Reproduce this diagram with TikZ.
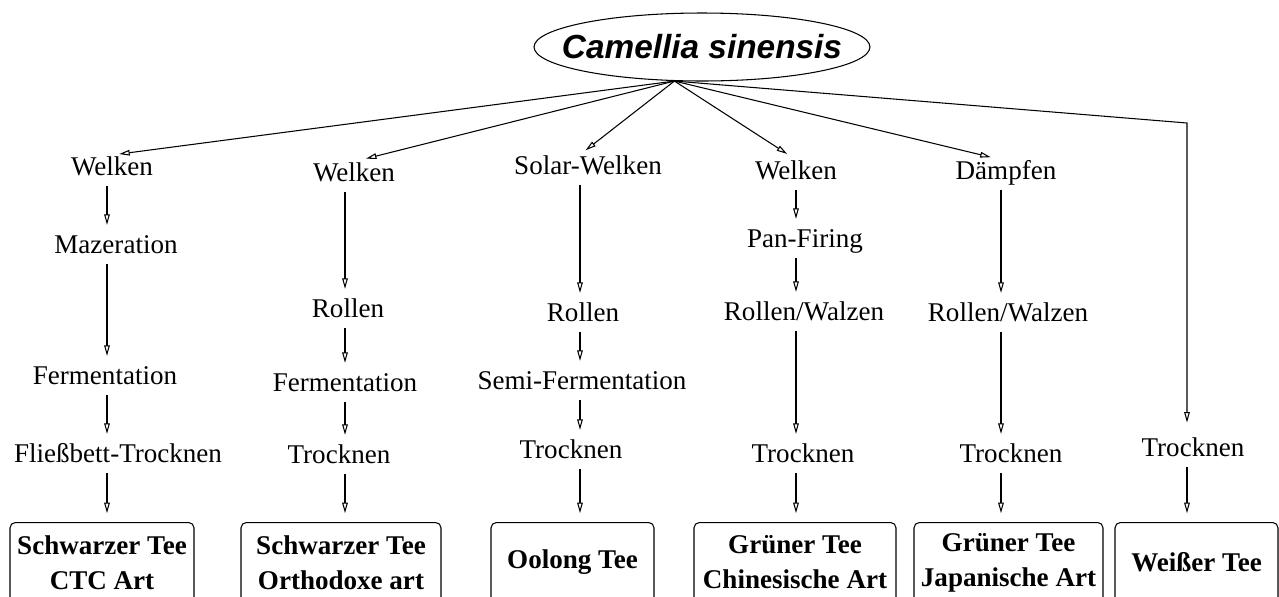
\documentclass[tikz,border=0pt]{standalone}
\usepackage{fontspec}
\setmainfont{Liberation Serif}
\newfontfamily\arialfont{Liberation Sans}
\usetikzlibrary{positioning, arrows.meta, shapes.geometric}

\begin{document}
\begin{tikzpicture}[
        x=0.02cm, y=-0.02cm,
        % Species at the top (ellipse)
        species/.style={
            ellipse, draw, line width=0.6pt,
            minimum width=6.72cm, minimum height=1.36cm,
            inner xsep=-0.5cm, inner ysep=0pt,
            font=\arialfont\bfseries\itshape\fontsize{19}{22}\selectfont
        },
        % Processing step: plain text, no frame
        stepnode/.style={
            anchor=base, inner sep=0pt,
            text height=0.38cm, text depth=0.12cm,
            font=\fontsize{15.4}{18}\selectfont
        },
        % Final tea type: rounded box
        tea/.style={
            rectangle, draw, line width=0.6pt, rounded corners=3pt,
            anchor=north, minimum height=1.6cm, inner sep=0pt,
            align=center, font=\bfseries\fontsize{15.4}{19.9}\selectfont
        },
        % Arrow with thin open head
        flow/.style={
            draw, line width=0.6pt,
            -{Triangle[open, length=6pt, width=3.2pt]},
            shorten <=2.5pt, shorten >=5pt
        }
    ]

        \clip (0,0) rectangle (1279,596);

        % Column axes
        \coordinate (col1) at (107,0);
        \coordinate (col2) at (345,0);
        \coordinate (col3) at (580,0);
        \coordinate (col4) at (796,0);
        \coordinate (col5) at (1001,0);
        \coordinate (col6) at (1187,0);
        \coordinate (bend) at (1187,123);

        % Nodes
        \node[species] (root) at (702,47) {Camellia sinensis};

        \node[stepnode] (welk1) at (112,175) {Welken};
        \node[stepnode] (maz1) at (116,253) {Mazeration};
        \node[stepnode] (ferm1) at (105,384) {Fermentation};
        \node[stepnode] (trock1) at (118,462) {Fließbett-Trocknen};
        \node[tea, minimum width=3.68cm] (tee1) at (102,522) {Schwarzer Tee\\CTC Art};

        \node[stepnode] (welk2) at (354,181) {Welken};
        \node[stepnode] (roll2) at (348,317) {Rollen};
        \node[stepnode] (ferm2) at (345,391) {Fermentation};
        \node[stepnode] (trock2) at (339,463) {Trocknen};
        \node[tea, minimum width=4cm] (tee2) at (341,522) {Schwarzer Tee\\Orthodoxe art};

        \node[stepnode] (solar3) at (588,174) {Solar-Welken};
        \node[stepnode] (roll3) at (583,321) {Rollen};
        \node[stepnode] (semi3) at (582,389) {Semi-Fermentation};
        \node[stepnode] (trock3) at (571,458) {Trocknen};
        \node[tea, minimum width=3.26cm] (tee3) at (572.5,522) {Oolong Tee};

        \node[stepnode] (welk4) at (796,179) {Welken};
        \node[stepnode] (pan4) at (805,247) {Pan-Firing};
        \node[stepnode] (walz4) at (804,320) {Rollen/Walzen};
        \node[stepnode] (trock4) at (803,462) {Trocknen};
        \node[tea, minimum width=4.04cm] (tee4) at (795,522) {Grüner Tee\\Chinesische Art};

        \node[stepnode] (daempf5) at (1006,179) {Dämpfen};
        \node[stepnode] (walz5) at (1008,321) {Rollen/Walzen};
        \node[stepnode] (trock5) at (1011,462) {Trocknen};
        \node[tea, minimum width=3.78cm] (tee5) at (1008.5,522) {Grüner Tee\\Japanische Art};

        \node[stepnode] (trock6) at (1193,456) {Trocknen};
        \node[tea, minimum width=3.26cm] (tee6) at (1196.5,522) {Weißer Tee};

        % Connections from the plant
        \draw[flow, shorten <=0pt, shorten >=7pt] (root.231) -- (welk1.north -| col1);
        \draw[flow, shorten <=0pt, shorten >=7pt] (root.231) -- (welk2.north);
        \draw[flow, shorten <=0pt, shorten >=4pt] (root.231) -- (solar3.north -| col3);
        \draw[flow, shorten <=0pt, shorten >=6pt] (root.231) -- (welk4.north);
        \draw[flow, shorten <=0pt, shorten >=6pt] (root.231) -- (daempf5.north -| col5);
        \draw[flow, shorten <=0pt, shorten >=8pt] (root.231) -- (bend) -- (trock6.north -| bend);

        % Steps, column by column
        \draw[flow] (welk1.south -| col1) -- (maz1.north -| col1);
        \draw[flow] (maz1.south -| col1) -- (ferm1.north -| col1);
        \draw[flow] (ferm1.south -| col1) -- (trock1.north -| col1);
        \draw[flow] (trock1.south -| col1) -- (tee1.north -| col1);

        \draw[flow] (welk2.south -| col2) -- (roll2.north -| col2);
        \draw[flow] (roll2.south -| col2) -- (ferm2.north -| col2);
        \draw[flow] (ferm2.south -| col2) -- (trock2.north -| col2);
        \draw[flow] (trock2.south -| col2) -- (tee2.north -| col2);

        \draw[flow] (solar3.south -| col3) -- (roll3.north -| col3);
        \draw[flow] (roll3.south -| col3) -- (semi3.north -| col3);
        \draw[flow] (semi3.south -| col3) -- (trock3.north -| col3);
        \draw[flow] (trock3.south -| col3) -- (tee3.north -| col3);

        \draw[flow] (welk4.south -| col4) -- (pan4.north -| col4);
        \draw[flow] (pan4.south -| col4) -- (walz4.north -| col4);
        \draw[flow] (walz4.south -| col4) -- (trock4.north -| col4);
        \draw[flow] (trock4.south -| col4) -- (tee4.north -| col4);

        \draw[flow] (daempf5.south -| col5) -- (walz5.north -| col5);
        \draw[flow] (walz5.south -| col5) -- (trock5.north -| col5);
        \draw[flow] (trock5.south -| col5) -- (tee5.north -| col5);

        \draw[flow] (trock6.south -| col6) -- (tee6.north -| col6);

    \end{tikzpicture}
\end{document}
